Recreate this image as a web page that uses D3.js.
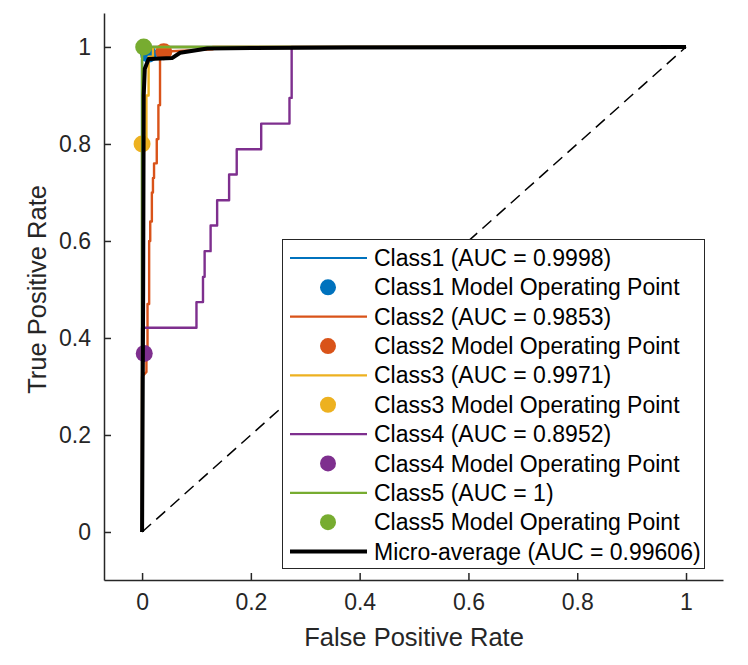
<!DOCTYPE html>
<html>
<head>
<meta charset="utf-8">
<script src="https://cdn.jsdelivr.net/npm/d3@7"></script>
<style>
  html, body { margin: 0; padding: 0; background: #fff; }
  svg { display: block; font-family: "Liberation Sans", Arial, Helvetica, sans-serif; }
</style>
</head>
<body>
<svg id="chart" width="748" height="665"></svg>
<script>
// ---- data ----
const classNames = ["Class1", "Class2", "Class3", "Class4", "Class5"];
const aucValues = ["0.9998", "0.9853", "0.9971", "0.8952", "1"];
const classColors = ["#0072BD", "#D95319", "#EDB120", "#7E2F8E", "#77AC30"];

const class1Fpr = [0, 0, 0.008, 0.008, 0.012, 0.012, 1];
const class1Tpr = [0, 0.975, 0.975, 0.99, 0.99, 1, 1];

const class2Fpr = [0, 0, 0.008, 0.008, 0.01, 0.01, 0.013, 0.013, 0.015, 0.015, 0.018, 0.018, 0.02, 0.02, 0.022, 0.022, 0.027, 0.027, 0.03, 0.03, 0.033, 0.033, 0.13, 0.13, 1];
const class2Tpr = [0, 0.32, 0.33, 0.37, 0.37, 0.47, 0.47, 0.60, 0.60, 0.64, 0.64, 0.70, 0.70, 0.73, 0.73, 0.76, 0.76, 0.81, 0.81, 0.88, 0.88, 0.99, 0.995, 1, 1];

const class3Fpr = [0, 0, 0.008, 0.008, 0.012, 0.012, 0.02, 0.02, 1];
const class3Tpr = [0, 0.80, 0.80, 0.90, 0.90, 0.98, 0.98, 1, 1];

const class4Fpr = [0, 0, 0.1, 0.1, 0.112, 0.112, 0.115, 0.115, 0.126, 0.126, 0.138, 0.138, 0.16, 0.16, 0.174, 0.174, 0.219, 0.219, 0.271, 0.271, 0.275, 0.275, 1];
const class4Tpr = [0, 0.421, 0.421, 0.474, 0.474, 0.526, 0.526, 0.579, 0.579, 0.632, 0.632, 0.684, 0.684, 0.737, 0.737, 0.789, 0.789, 0.842, 0.842, 0.895, 0.895, 1, 1];

const class5Fpr = [0, 0, 1];
const class5Tpr = [0, 1, 1];

const microFpr = [0, 0.002, 0.003, 0.005, 0.012, 0.055, 0.07, 0.12, 0.2, 0.38, 1];
const microTpr = [0, 0.5, 0.9, 0.955, 0.975, 0.977, 0.988, 0.997, 0.998, 0.999, 1];

const opFpr = [0.012, 0.04, 0.0, 0.004, 0.003];
const opTpr = [0.985, 0.99, 0.80, 0.368, 1.0];

const microLabel = "Micro-average (AUC = 0.99606)";
const xTicks = [0, 0.2, 0.4, 0.6, 0.8, 1];
const yTicks = [0, 0.2, 0.4, 0.6, 0.8, 1];
const xTitle = "False Positive Rate";
const yTitle = "True Positive Rate";

// ---- build ----
const curves = [
  { fpr: class1Fpr, tpr: class1Tpr },
  { fpr: class2Fpr, tpr: class2Tpr },
  { fpr: class3Fpr, tpr: class3Tpr },
  { fpr: class4Fpr, tpr: class4Tpr },
  { fpr: class5Fpr, tpr: class5Tpr }
];

const svg = d3.select("#chart");
const axisColor = "#262626";

const x = d3.scaleLinear().domain([-0.07, 1.068]).range([104, 723]);
const y = d3.scaleLinear().domain([-0.099, 1.07]).range([580, 13]);

const line = d3.line().x(d => x(d[0])).y(d => y(d[1]));

// diagonal reference
svg.append("path")
  .attr("d", line([[0, 0], [1, 1]]))
  .attr("fill", "none")
  .attr("stroke", "#000")
  .attr("stroke-width", 1.5)
  .attr("stroke-dasharray", "12,7");

// class curves and operating points
curves.forEach((c, i) => {
  const pts = c.fpr.map((f, j) => [f, c.tpr[j]]);
  svg.append("path")
    .attr("d", line(pts))
    .attr("fill", "none")
    .attr("stroke", classColors[i])
    .attr("stroke-width", 2.4)
    .attr("stroke-linejoin", "round");
  svg.append("circle")
    .attr("cx", x(opFpr[i]))
    .attr("cy", y(opTpr[i]))
    .attr("r", 8.5)
    .attr("fill", classColors[i]);
});

// micro-average
svg.append("path")
  .attr("d", line(microFpr.map((f, j) => [f, microTpr[j]])))
  .attr("fill", "none")
  .attr("stroke", "#000")
  .attr("stroke-width", 4)
  .attr("stroke-linejoin", "round");

// axes
const fmt = d => (d === 0 || d === 1) ? String(d) : d.toFixed(1);
const xAxis = svg.append("g")
  .attr("transform", "translate(0,580)")
  .call(d3.axisBottom(x).tickValues(xTicks).tickFormat(fmt).tickSizeInner(-7).tickSizeOuter(0).tickPadding(14));
const yAxis = svg.append("g")
  .attr("transform", "translate(104,0)")
  .call(d3.axisLeft(y).tickValues(yTicks).tickFormat(fmt).tickSizeInner(-7).tickSizeOuter(0).tickPadding(13));

[xAxis, yAxis].forEach(g => {
  g.select(".domain").attr("stroke", axisColor).attr("stroke-width", 1.5);
  g.selectAll(".tick line").attr("stroke", axisColor).attr("stroke-width", 1.5);
  g.selectAll(".tick text").attr("fill", axisColor).style("font-size", "23px")
    .style("font-family", "'Liberation Sans', Arial, sans-serif");
});

// axis titles
svg.append("text")
  .attr("x", x(0.5)).attr("y", 646)
  .attr("text-anchor", "middle")
  .attr("fill", axisColor)
  .style("font-size", "25.5px")
  .text(xTitle);
svg.append("text")
  .attr("transform", `translate(46,${y(0.5)}) rotate(-90)`)
  .attr("text-anchor", "middle")
  .attr("fill", axisColor)
  .style("font-size", "25.5px")
  .text(yTitle);

// legend
const legend = svg.append("g");
legend.append("rect")
  .attr("x", 282.5).attr("y", 239.5)
  .attr("width", 422).attr("height", 329)
  .attr("fill", "#fff")
  .attr("stroke", axisColor)
  .attr("stroke-width", 1);

const items = [];
classNames.forEach((n, i) => {
  items.push({ type: "line", color: classColors[i], width: 2.2, label: `${n} (AUC = ${aucValues[i]})` });
  items.push({ type: "dot", color: classColors[i], label: `${n} Model Operating Point` });
});
items.push({ type: "line", color: "#000", width: 4, label: microLabel });

const rowY = d3.scaleLinear().domain([0, 10]).range([258, 551.5]);
items.forEach((it, i) => {
  const cy = rowY(i);
  if (it.type === "line") {
    legend.append("line")
      .attr("x1", 290).attr("x2", 367)
      .attr("y1", cy).attr("y2", cy)
      .attr("stroke", it.color).attr("stroke-width", it.width);
  } else {
    legend.append("circle")
      .attr("cx", 328).attr("cy", cy).attr("r", 8).attr("fill", it.color);
  }
  legend.append("text")
    .attr("x", 374).attr("y", cy)
    .attr("dy", "0.35em")
    .attr("fill", "#000")
    .style("font-size", "23px")
    .text(it.label);
});
</script>
</body>
</html>
